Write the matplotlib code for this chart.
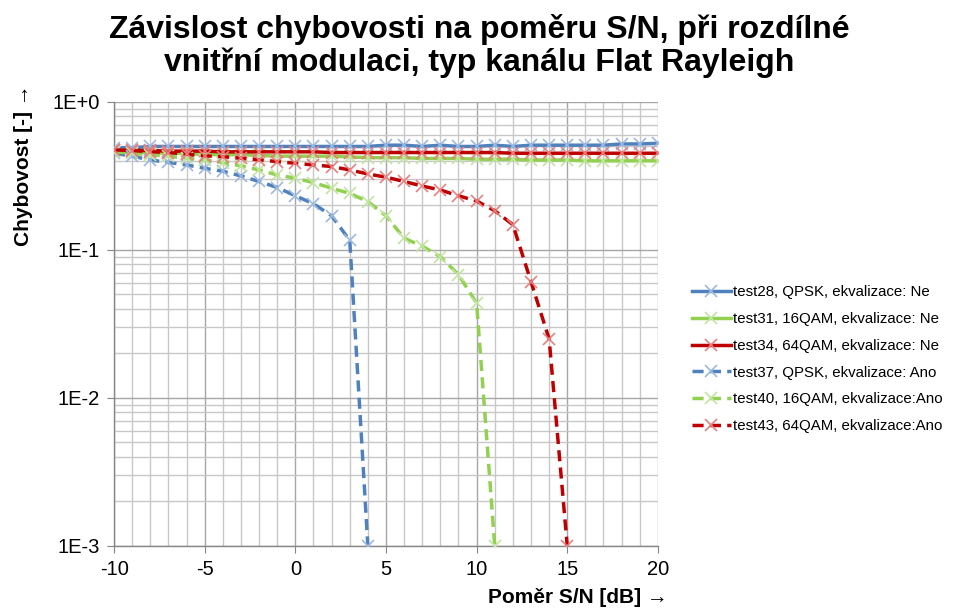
import numpy as np
import matplotlib.pyplot as plt
from matplotlib.ticker import MultipleLocator, LogLocator, NullFormatter

plt.rcParams['font.family'] = ['Liberation Sans', 'DejaVu Sans']
plt.rcParams['axes.unicode_minus'] = False

# S/N osa [dB]
snr = np.arange(-10, 21)
snr_37 = np.arange(-10, 5)
snr_40 = np.arange(-10, 12)
snr_43 = np.arange(-10, 16)

# bez ekvalizace
ber_28 = [0.49, 0.49, 0.50, 0.50, 0.50, 0.50, 0.50, 0.50, 0.50, 0.50, 0.50,
          0.50, 0.50, 0.50, 0.50, 0.51, 0.51, 0.50, 0.51, 0.50, 0.50, 0.51,
          0.50, 0.51, 0.51, 0.51, 0.51, 0.51, 0.52, 0.52, 0.525]
ber_31 = [0.46, 0.46, 0.455, 0.45, 0.45, 0.44, 0.44, 0.44, 0.435, 0.43, 0.43,
          0.43, 0.43, 0.425, 0.42, 0.42, 0.42, 0.415, 0.415, 0.415, 0.41, 0.41,
          0.41, 0.405, 0.405, 0.405, 0.40, 0.40, 0.40, 0.40, 0.40]
ber_34 = [0.47, 0.47, 0.47, 0.465, 0.465, 0.465, 0.46, 0.46, 0.46, 0.46, 0.46,
          0.46, 0.455, 0.455, 0.455, 0.455, 0.455, 0.455, 0.455, 0.455, 0.455,
          0.455, 0.45, 0.45, 0.45, 0.45, 0.45, 0.45, 0.45, 0.45, 0.45]

# s ekvalizaci
ber_37 = [0.45, 0.43, 0.405, 0.39, 0.375, 0.356, 0.34, 0.316, 0.29, 0.264,
          0.232, 0.205, 0.17, 0.116, 0.001]
ber_40 = [0.46, 0.45, 0.44, 0.43, 0.416, 0.406, 0.389, 0.37, 0.347, 0.321,
          0.305, 0.285, 0.261, 0.241, 0.212, 0.17, 0.12, 0.106, 0.09, 0.068,
          0.0436, 0.001]
ber_43 = [0.474, 0.469, 0.461, 0.455, 0.443, 0.432, 0.427, 0.416, 0.406, 0.395,
          0.385, 0.375, 0.366, 0.347, 0.326, 0.31, 0.29, 0.27, 0.254, 0.232,
          0.214, 0.184, 0.148, 0.061, 0.025, 0.001]

labels = ['test28, QPSK, ekvalizace: Ne',
          'test31, 16QAM, ekvalizace: Ne',
          'test34, 64QAM, ekvalizace: Ne',
          'test37, QPSK, ekvalizace: Ano',
          'test40, 16QAM, ekvalizace:Ano',
          'test43, 64QAM, ekvalizace:Ano']

blue, green, red = '#4F81BD', '#92D050', '#C00000'
blue_m, green_m, red_m = '#9DB9E0', '#C2E6A0', '#E88080'

series = [
    (snr, ber_28, blue, blue_m, '-'),
    (snr, ber_31, green, green_m, '-'),
    (snr, ber_34, red, red_m, '-'),
    (snr_37, ber_37, blue, blue_m, '--'),
    (snr_40, ber_40, green, green_m, '--'),
    (snr_43, ber_43, red, red_m, '--'),
]

fig = plt.figure(figsize=(9.59, 6.14), dpi=100)
ax = fig.add_axes([0.119, 0.111, 0.567, 0.723])

for (x, y, c, mc, ls), lab in zip(series, labels):
    ax.plot(x, y, linestyle=ls, color=c, linewidth=2.5,
            dashes=(3.2, 1.8) if ls == '--' else (None, None),
            marker='x', markersize=8.5, markeredgewidth=1.2,
            markeredgecolor=mc, label=lab, zorder=3)

ax.set_yscale('log')
ax.set_xlim(-10, 20)
ax.set_ylim(1e-3, 1)
ax.set_yticks([1, 0.1, 0.01, 0.001])
ax.set_yticklabels(['1E+0', '1E-1', '1E-2', '1E-3'])
ax.yaxis.set_minor_locator(LogLocator(base=10, subs=np.arange(2, 10)))
ax.yaxis.set_minor_formatter(NullFormatter())
ax.xaxis.set_major_locator(MultipleLocator(5))
ax.xaxis.set_minor_locator(MultipleLocator(1))

ax.grid(True, which='major', color='#A6A6A6', linewidth=1.0)
ax.grid(True, which='minor', color='#C8C8C8', linewidth=1.0)
ax.set_axisbelow(True)

for s in ['top', 'right']:
    ax.spines[s].set_visible(False)
for s in ['left', 'bottom']:
    ax.spines[s].set_color('#868686')
    ax.spines[s].set_linewidth(1.0)

ax.tick_params(which='major', length=5, color='#868686', labelsize=14.5, pad=5)
ax.tick_params(which='minor', length=0)

fig.text(0.5, 0.925, 'Závislost chybovosti na poměru S/N, při rozdílné\n'
         'vnitřní modulaci, typ kanálu Flat Rayleigh',
         ha='center', va='center', fontsize=23, fontweight='bold',
         linespacing=1.08)
fig.text(0.696, 0.012, 'Poměr S/N [dB] →', ha='right', va='bottom',
         fontsize=15, fontweight='bold')
fig.text(0.024, 0.862, 'Chybovost [-] →', ha='center', va='top',
         rotation=90, fontsize=15, fontweight='bold')

fig.legend(loc='upper left', bbox_to_anchor=(0.715, 0.545), frameon=False,
           fontsize=10.8, handlelength=2.6, handletextpad=0.15,
           labelspacing=0.85, borderaxespad=0)

fig.savefig('out.png', dpi=100)
